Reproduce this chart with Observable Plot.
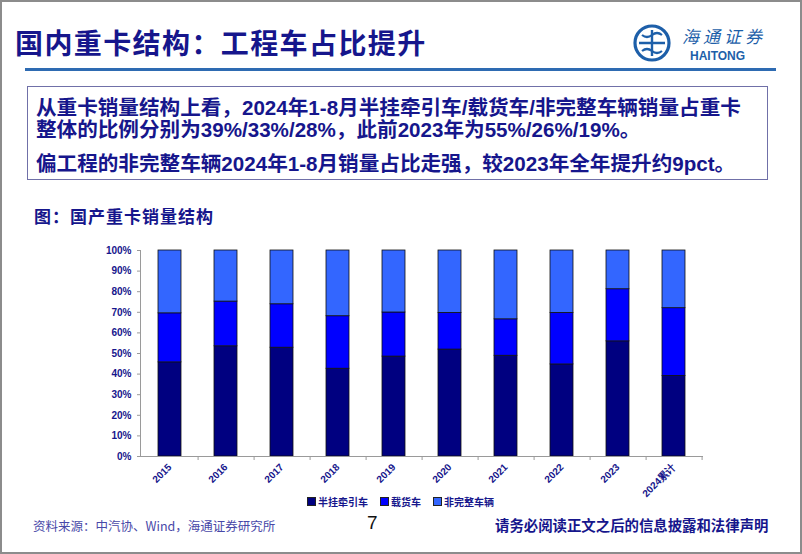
<!DOCTYPE html>
<html><head><meta charset="utf-8">
<script src="https://cdn.jsdelivr.net/npm/d3@7"></script>
<script src="https://cdn.jsdelivr.net/npm/@observablehq/plot@0.6"></script>
<style>
html,body{margin:0;padding:0;background:#fff;}
#page{position:relative;width:802px;height:554px;box-sizing:border-box;border:2px solid #8c8c8c;overflow:hidden;font-family:"Liberation Sans","Noto Sans CJK SC",sans-serif;}
.abs{position:absolute;white-space:nowrap;}
#title{left:13px;top:20px;font-size:28px;font-weight:bold;color:#16168c;letter-spacing:1.4px;font-family:"Noto Sans CJK SC",sans-serif;}
#hline{left:23px;top:66px;width:751px;height:3px;background:#2e6bb2;}
#box{left:25px;top:84px;width:741px;height:94px;border:1px solid #7070a8;box-sizing:border-box;}
.bt{font-size:20.6px;font-weight:bold;color:#16168c;font-family:"Liberation Sans","Noto Sans CJK SC",sans-serif;}
#sub{left:32px;top:201px;font-size:17px;color:#16168c;font-weight:bold;font-family:"Noto Sans CJK SC",sans-serif;letter-spacing:1px;}
#chart{left:-2px;top:236px;}
#legend{left:305px;top:492px;font-size:10px;font-weight:bold;color:#16168c;font-family:"Noto Sans CJK SC",sans-serif;}
#legend span.sw{display:inline-block;width:7px;height:7px;border:1px solid #222;margin-right:2px;vertical-align:0px;}
#legend span.it{margin-right:12px;}
#src{left:31px;top:514px;font-size:12.5px;color:#4848a8;font-family:"Noto Sans CJK SC",sans-serif;}
#pg{left:365px;top:510px;font-size:19px;color:#111;font-family:"Liberation Sans",sans-serif;}
#disc{left:493px;top:512px;font-size:14.4px;font-weight:bold;color:#16168c;font-family:"Noto Sans CJK SC",sans-serif;}
#logo{left:628px;top:20px;}
#logotxt{left:680px;top:25px;font-size:17px;line-height:17px;height:17px;color:#1d5fa9;font-style:italic;font-family:"Noto Sans CJK SC",sans-serif;letter-spacing:4px;}
#logoen{left:688px;top:48px;font-size:12px;line-height:12px;height:12px;font-weight:bold;color:#1d5fa9;font-family:"Liberation Sans",sans-serif;}
</style></head>
<body>
<div id="page">
  <div id="title" class="abs">国内重卡结构：工程车占比提升</div>
  <svg id="logo" class="abs" width="46" height="44" viewBox="0 0 46 44">
    <circle cx="22" cy="21" r="17" fill="none" stroke="#1d5fa9" stroke-width="3.2"/>
    <path d="M9 21 H35 M22 8 V34" stroke="#1d5fa9" stroke-width="2.4" fill="none"/>
    <path d="M12 13 q5 4 10 0 q5 -4 10 0 M12 29 q5 -4 10 0 q5 4 10 0" stroke="#1d5fa9" stroke-width="2.2" fill="none"/>
  </svg>
  <div id="logotxt" class="abs">海通证券</div>
  <div id="logoen" class="abs">HAITONG</div>
  <div id="hline" class="abs"></div>
  <div id="box" class="abs"></div>
  <div class="abs bt" style="left:34px;top:89px;">从重卡销量结构上看，2024年1-8月半挂牵引车/载货车/非完整车辆销量占重卡</div>
  <div class="abs bt" style="left:34px;top:111px;">整体的比例分别为39%/33%/28%，此前2023年为55%/26%/19%。</div>
  <div class="abs bt" style="left:34px;top:145px;">偏工程的非完整车辆2024年1-8月销量占比走强，较2023年全年提升约9pct。</div>
  <div id="sub" class="abs">图：国产重卡销量结构</div>
  <div id="chart" class="abs"></div>
  <div id="legend" class="abs"></div>
  <div id="src" class="abs">资料来源：中汽协、Wind，海通证券研究所</div>
  <div id="pg" class="abs">7</div>
  <div id="disc" class="abs">请务必阅读正文之后的信息披露和法律声明</div>
</div>
<script>
const categories = ["2015","2016","2017","2018","2019","2020","2021","2022","2023","2024累计"];
const seriesNames = ["半挂牵引车","载货车","非完整车辆"];
const tractor    = [45.7, 53.5, 52.8, 42.6, 48.5, 51.9, 48.9, 44.7, 55.9, 39.1];
const cargo      = [23.8, 21.7, 21.1, 25.5, 21.4, 17.8, 17.7, 25.0, 25.3, 32.9];
const incomplete = [30.5, 24.8, 26.1, 31.9, 30.1, 30.3, 33.4, 30.3, 18.8, 28.0];
const yTicks = [0,10,20,30,40,50,60,70,80,90,100];
const colors = ["#000080","#0000ff","#3366ff"];

const seriesValues = [tractor, cargo, incomplete];
const data = [];
seriesNames.forEach((s, si) => categories.forEach((c, ci) => data.push({cat: c, series: s, value: seriesValues[si][ci]})));

const W = 720, H = 272, mT = 12, mB = 54, mL = 140, mR = 18;
const bw = (W - mL - mR) / categories.length;
const navy = "#16168c";

const plot = Plot.plot({
  width: W, height: H,
  marginTop: mT, marginBottom: mB, marginLeft: mL, marginRight: mR,
  style: {fontFamily: "Liberation Sans, Arial, sans-serif", fontSize: "10px", fontWeight: "bold", color: navy, background: "transparent"},
  x: {domain: categories, paddingInner: 0.59, paddingOuter: 0.295, label: null},
  y: {domain: [0, 100], label: null},
  color: {domain: seriesNames, range: colors},
  marks: [
    Plot.barY(data, {x: "cat", y: "value", fill: "series", stroke: "#111", strokeWidth: 0.8, order: seriesNames}),
    Plot.frame({anchor: "left", stroke: "#9a9a9a"}),
    Plot.frame({anchor: "bottom", stroke: "#9a9a9a"}),
    Plot.ruleX(categories, {x: d => d, dx: bw / 2, y1: 0, y2: 0, insetTop: 4, stroke: "#9a9a9a"}),
    Plot.axisY({ticks: yTicks, tickFormat: d => d + "%", tickSize: 3, tickPadding: 6, stroke: "#9a9a9a", fill: navy}),
    Plot.axisX({tickSize: 0, tickPadding: 9, tickRotate: -45, fill: navy})
  ]
});
document.getElementById("chart").appendChild(plot);

const lg = document.getElementById("legend");
seriesNames.forEach((s, i) => {
  const it = document.createElement("span");
  it.className = "it";
  it.innerHTML = `<span class="sw" style="background:${colors[i]}"></span>${s}`;
  lg.appendChild(it);
});
</script>
</body></html>
